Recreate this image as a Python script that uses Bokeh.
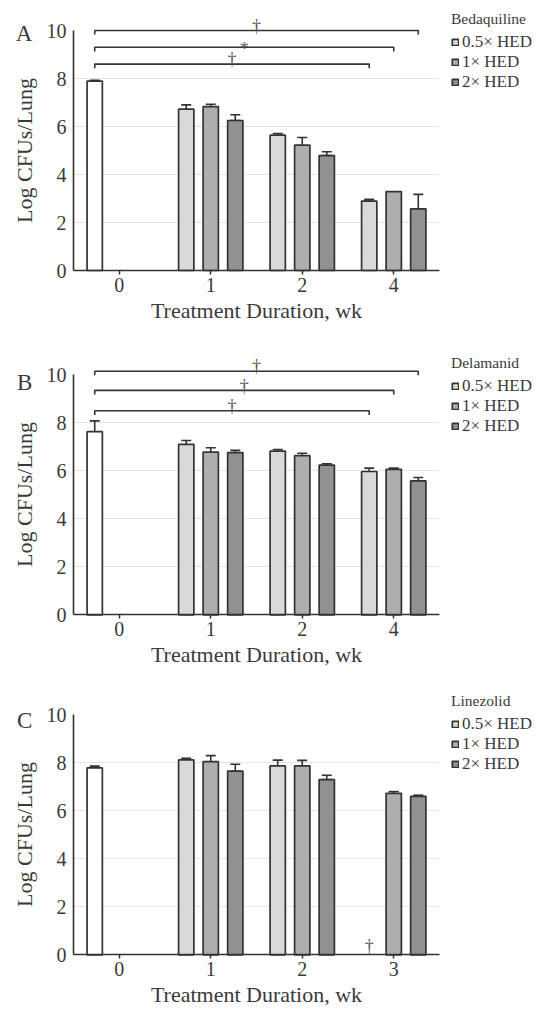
import math
from bokeh.plotting import figure
from bokeh.models import (ColumnDataSource, Range1d, Whisker, TeeHead,
                          Legend, LegendItem, Label, SingleIntervalTicker, FixedTicker)
from bokeh.transform import dodge
from bokeh.layouts import column
from bokeh.core.properties import value
from bokeh.embed import file_html
from bokeh.resources import INLINE

nan = float("nan")

# ---------------- data ----------------
dose_labels = ["0.5× HED", "1× HED", "2× HED"]

# Panel A - Bedaquiline
weeks_a = ["0", "1", "2", "4"]
ctrl_a, ctrl_a_lo, ctrl_a_hi = 7.89, 7.85, 7.92
half_a = [6.72, 5.64, 2.89]
half_a_lo = [6.55, 5.51, 2.89]
half_a_hi = [6.90, 5.71, 2.97]
one_a = [6.83, 5.22, 3.29]
one_a_lo = [6.35, 4.96, 3.29]
one_a_hi = [6.93, 5.54, 3.29]
two_a = [6.25, 4.79, 2.57]
two_a_lo = [6.25, 4.79, 2.57]
two_a_hi = [6.49, 4.95, 3.17]
sig_a_dose = ["2× HED", "1× HED", "0.5× HED"]
sig_a_mark = ["†", "*", "†"]

# Panel B - Delamanid
weeks_b = ["0", "1", "2", "4"]
ctrl_b, ctrl_b_lo, ctrl_b_hi = 7.63, 7.40, 8.08
half_b = [7.10, 6.82, 5.97]
half_b_lo = [6.96, 6.75, 5.86]
half_b_hi = [7.26, 6.89, 6.11]
one_b = [6.78, 6.63, 6.06]
one_b_lo = [6.74, 6.33, 5.90]
one_b_hi = [6.96, 6.73, 6.11]
two_b = [6.76, 6.24, 5.58]
two_b_lo = [6.64, 6.07, 5.52]
two_b_hi = [6.85, 6.29, 5.72]
sig_b_dose = ["2× HED", "1× HED", "0.5× HED"]
sig_b_mark = ["†", "†", "†"]

# Panel C - Linezolid
weeks_c = ["0", "1", "2", "3"]
ctrl_c, ctrl_c_lo, ctrl_c_hi = 7.79, 5.83, 7.86
half_c = [8.12, 7.87, nan]
half_c_lo = [7.92, 7.48, nan]
half_c_hi = [8.19, 8.11, nan]
one_c = [8.05, 7.87, 6.73]
one_c_lo = [7.60, 7.69, 6.70]
one_c_hi = [8.30, 8.10, 6.80]
two_c = [7.65, 7.30, 6.60]
two_c_lo = [7.65, 7.30, 6.60]
two_c_hi = [7.94, 7.48, 6.65]
cured_c_week = ["3"]
cured_c_dose = ["0.5× HED"]

# ---------------- styling / layout ----------------
FONT = "Liberation Serif"
INK = "#333333"
TXT = "#3a3a3a"
FILLS = ["#d9d9da", "#adaeb0", "#909193"]
OFF = 0.268
BW = 0.167
DOSE_OFF = [-OFF, 0.0, OFF]
W = 538
PX_X = 91.5      # pixels per category
X0_PX = 118.75   # pixel position of first category centre
PX_Y = 24.0      # pixels per log unit


def build_panel(letter, drug, weeks, ctrl, ctrl_lo, ctrl_hi, means, lows, highs,
                sig_dose, sig_mark, levels, cured_week, cured_dose,
                height, zero_px, letter_y, legend_top):
    xr = Range1d(-X0_PX / PX_X, (W - X0_PX) / PX_X)
    yr = Range1d(-(height - zero_px) / PX_Y, zero_px / PX_Y)
    p = figure(width=W, height=height, x_range=xr, y_range=yr, min_border=0,
               output_backend="svg", toolbar_location=None)
    p.outline_line_color = None
    p.background_fill_color = "white"
    n = len(weeks)
    xlo, xhi = -0.5, n - 0.5

    # grid
    p.xgrid.visible = False
    p.ygrid.ticker = FixedTicker(ticks=[2, 4, 6, 8])
    p.ygrid.grid_line_color = "#e6e6e6"
    p.ygrid.grid_line_width = 1
    try:
        p.ygrid.cross_bounds = (xlo, xhi)
    except Exception:
        p.ygrid.visible = False
        gy = [2, 4, 6, 8]
        p.segment(x0=[xlo] * 4, x1=[xhi] * 4, y0=gy, y1=gy, line_color="#e6e6e6",
                  line_width=1, level="underlay")

    # axes (fixed inside the canvas)
    yax = p.yaxis[0]
    yax.fixed_location = xlo
    yax.ticker = SingleIntervalTicker(interval=2)
    yax.bounds = (0, 10)
    yax.major_tick_out = 0
    yax.major_tick_in = 0
    yax.minor_tick_out = 0
    yax.minor_tick_in = 0
    yax.major_label_standoff = 7
    yax.axis_label = "Log CFUs/Lung"
    yax.axis_label_standoff = 7
    xax = p.xaxis[0]
    xax.fixed_location = 0
    xax.ticker = FixedTicker(ticks=list(range(n)))
    xax.major_label_overrides = {i: w for i, w in enumerate(weeks)}
    xax.bounds = (xlo, xhi)
    xax.minor_tick_out = 0
    xax.minor_tick_in = 0
    xax.major_tick_out = 4
    xax.major_tick_in = 0
    xax.major_label_standoff = 3
    xax.axis_label = "Treatment Duration, wk"
    xax.axis_label_standoff = 3
    for ax in (xax, yax):
        ax.axis_line_color = INK
        ax.axis_line_width = 1.6
        ax.major_tick_line_color = INK
        ax.major_tick_line_width = 1.5
        ax.major_label_text_font = FONT
        ax.major_label_text_font_size = "20px"
        ax.major_label_text_color = TXT
        ax.axis_label_text_font = FONT
        ax.axis_label_text_font_size = "22px"
        ax.axis_label_text_font_style = "normal"
        ax.axis_label_text_color = TXT

    head = lambda: TeeHead(size=10, line_color=INK, line_width=1.6)

    # untreated control bar (week 0)
    cs = ColumnDataSource(dict(wi=[weeks.index(weeks[0])], top=[ctrl], lo=[ctrl_lo], hi=[ctrl_hi]))
    p.vbar(x=dodge("wi", -OFF), top="top", width=BW, bottom=0,
           source=cs, fill_color="white", line_color=INK, line_width=1.7)
    p.add_layout(Whisker(source=cs, base=dodge("wi", -OFF), upper="hi", lower="lo",
                         line_color=INK, line_width=1.6,
                         upper_head=head(), lower_head=head()))

    items = []
    for k in range(3):
        wi, tp, lo, hi = [], [], [], []
        for j, (m, l, h) in enumerate(zip(means[k], lows[k], highs[k])):
            if math.isnan(m):
                continue
            wi.append(j + 1); tp.append(m); lo.append(l); hi.append(h)
        src = ColumnDataSource(dict(wi=wi, top=tp, lo=lo, hi=hi))
        r = p.vbar(x=dodge("wi", DOSE_OFF[k]), top="top", bottom=0,
                   width=BW, source=src, fill_color=FILLS[k], line_color=INK,
                   line_width=1.7)
        items.append(LegendItem(label=dose_labels[k], renderers=[r]))
        keep = [i for i in range(len(wi)) if hi[i] > lo[i]]
        if keep:
            es = ColumnDataSource(dict(wi=[wi[i] for i in keep],
                                       lo=[lo[i] for i in keep],
                                       hi=[hi[i] for i in keep]))
            p.add_layout(Whisker(source=es, base=dodge("wi", DOSE_OFF[k]),
                                 upper="hi", lower="lo", line_color=INK, line_width=1.6,
                                 upper_head=head(), lower_head=head()))

    # significance brackets: control vs each dose at the last time point
    if sig_dose:
        xl = 0 - OFF
        last = n - 1
        xs, ys, tx, ty, tt = [], [], [], [], []
        for d, mk, lev in zip(sig_dose, sig_mark, levels):
            xrgt = last + DOSE_OFF[dose_labels.index(d)]
            xs.append([xl, xl, xrgt, xrgt])
            ys.append([lev - 0.17, lev, lev, lev - 0.17])
            tx.append((xl + xrgt) / 2)
            ty.append(lev + (0.2 if mk == "†" else -0.08))
            tt.append(mk)
        p.multi_line(xs=xs, ys=ys, line_color=INK, line_width=1.6)
        p.text(x=tx, y=ty, text=tt, text_font=value(FONT), text_font_size="18px",
               text_align="center", text_baseline="alphabetic", text_color="#555555")

    if cured_week:
        cx = [weeks.index(w) + DOSE_OFF[dose_labels.index(d)]
              for w, d in zip(cured_week, cured_dose)]
        p.text(x=cx, y=[0.35] * len(cx), text=["†"] * len(cx), text_font=value(FONT),
               text_font_size="18px", text_align="center", text_baseline="alphabetic",
               text_color="#555555")

    leg_h = 82
    leg = Legend(items=items, location=(451, height - legend_top - leg_h), title=drug,
                 border_line_color=None, background_fill_alpha=0,
                 padding=0, margin=0, spacing=0, label_height=20,
                 glyph_height=8, glyph_width=8, label_standoff=3, title_standoff=4,
                 label_text_font=FONT, label_text_font_size="17px", label_text_color=TXT,
                 title_text_font=FONT, title_text_font_size="15.5px",
                 title_text_font_style="normal", title_text_color=TXT)
    p.add_layout(leg)

    p.add_layout(Label(x=-0.95, y=letter_y, text=letter,
                       text_font=FONT, text_font_size="23px", text_color=TXT,
                       text_align="right", text_baseline="alphabetic"))
    return p


pA = build_panel("A", "Bedaquiline", weeks_a, ctrl_a, ctrl_a_lo, ctrl_a_hi,
                 [half_a, one_a, two_a], [half_a_lo, one_a_lo, two_a_lo],
                 [half_a_hi, one_a_hi, two_a_hi], sig_a_dose, sig_a_mark,
                 [10.0, 9.3, 8.6], [], [], 330, 270.0, 9.86, 10)
pB = build_panel("B", "Delamanid", weeks_b, ctrl_b, ctrl_b_lo, ctrl_b_hi,
                 [half_b, one_b, two_b], [half_b_lo, one_b_lo, two_b_lo],
                 [half_b_hi, one_b_hi, two_b_hi], sig_b_dose, sig_b_mark,
                 [10.15, 9.35, 8.5], [], [], 350, 284.3, 9.68, 24)
pC = build_panel("C", "Linezolid", weeks_c, ctrl_c, ctrl_c_lo, ctrl_c_hi,
                 [half_c, one_c, two_c], [half_c_lo, one_c_lo, two_c_lo],
                 [half_c_hi, one_c_hi, two_c_hi], [], [], [], cured_c_week, cured_c_dose,
                 329, 274.3, 9.76, 12)

layout = column(pA, pB, pC, spacing=0)
open("out.html", "w").write(file_html(layout, INLINE))
